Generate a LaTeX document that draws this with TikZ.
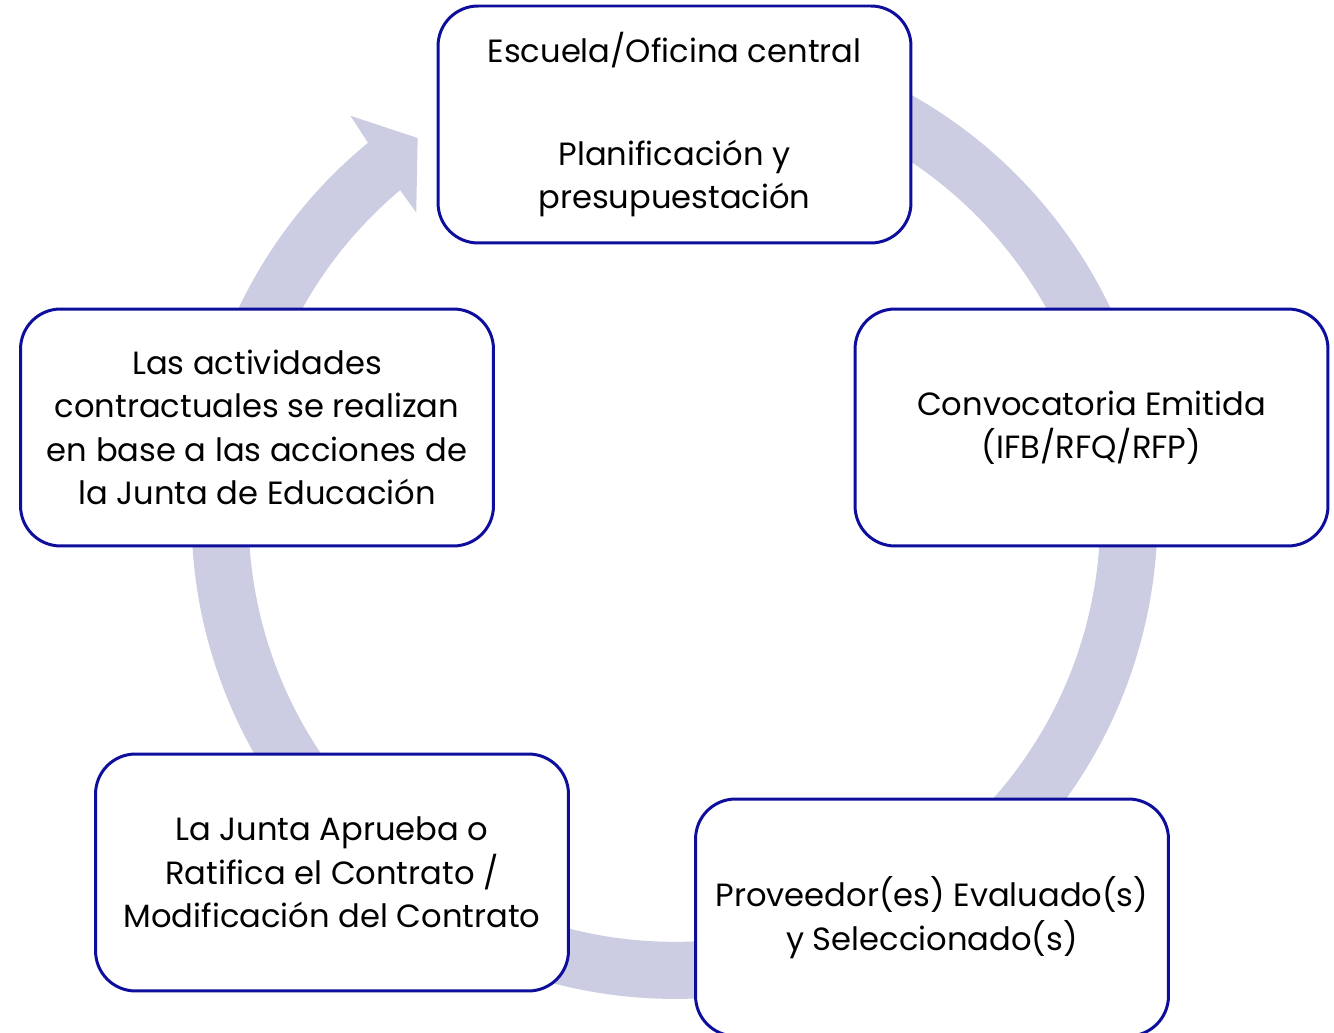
\documentclass[tikz,border=0pt]{standalone}
\usepackage{fontspec}
\setmainfont{Poppins}
\usetikzlibrary{calc}
\definecolor{ringgray}{RGB}{204,204,226}
\definecolor{boxblue}{RGB}{14,14,156}

\begin{document}
\begin{tikzpicture}[x=0.02cm, y=0.02cm,
    stage/.style={draw=boxblue, line width=1.7pt, fill=white, rounded corners=0.8cm,
      minimum width=9.46cm, minimum height=4.74cm, inner sep=0pt, align=center,
      font=\fontsize{18.3}{24.7}\selectfont}]
    \useasboundingbox (0,0) rectangle (1334,1033);
    \coordinate (c) at (674.5,517);

    % Ring with arrow head
    \fill[ringgray] ($(c)+(75:483)$) arc[start angle=75, end angle=-230.6, radius=9.66cm]
        -- ($(c)+(-231:515)$) -- ($(c)+(-235.8:457)$) -- ($(c)+(-229.6:398.5)$)
        -- ($(c)+(-229.9:426)$) arc[start angle=-229.9, end angle=75, radius=8.52cm] -- cycle;

    % Stages
    \node[stage] (plan) at (674.5,908.5) {Escuela/Oficina central\\[33.9pt] Planificación y\\ presupuestación};
    \node[stage] (call) at (1091.5,605.5) {Convocatoria Emitida\\ (IFB/RFQ/RFP)};
    \node[stage] (eval) at (932,115.5) {Proveedor(es) Evaluado(s)\\ y Seleccionado(s)};
    \node[stage] (board) at (332,160.5) {La Junta Aprueba o\\ Ratifica el Contrato /\\ Modificación del Contrato};
    \node[stage] (acts) at (257,605.5) {Las actividades\\ contractuales se realizan\\ en base a las acciones de\\ la Junta de Educación};
\end{tikzpicture}
\end{document}
